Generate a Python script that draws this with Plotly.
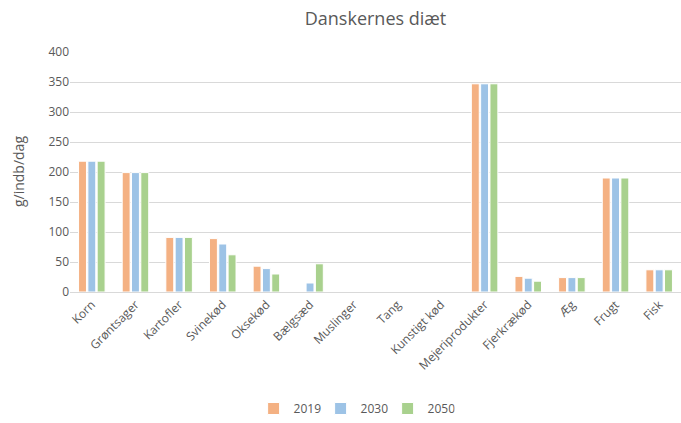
import plotly.graph_objects as go

categories = ["Korn", "Grøntsager", "Kartofler", "Svinekød", "Oksekød", "Bælgsæd", "Muslinger",
              "Tang", "Kunstigt kød", "Mejeriprodukter", "Fjerkrækød", "Æg", "Frugt", "Fisk"]
v2019 = [218, 199, 91, 89, 43, 0, 0, 0, 0, 347, 26, 24, 190, 37]
v2030 = [218, 199, 91, 80, 39, 15, 0, 0, 0, 347, 23, 24, 190, 37]
v2050 = [218, 199, 91, 62, 30, 47, 0, 0, 0, 347, 18, 24, 190, 37]
series_names = ["2019", "2030", "2050"]
colors = ["#F4B183", "#9DC3E6", "#A9D18E"]

fig = go.Figure()
for name, vals, c in zip(series_names, [v2019, v2030, v2050], colors):
    fig.add_trace(go.Bar(x=categories, y=vals, name=name,
                         marker=dict(color=c, line=dict(color="white", width=1))))

font_fam = "Open Sans, Liberation Sans, sans-serif"
fig.update_layout(
    width=681, height=423,
    margin=dict(l=70, r=0, t=52, b=128),
    paper_bgcolor="white", plot_bgcolor="white",
    barmode="group", bargap=0.36, bargroupgap=0.15,
    font=dict(family=font_fam, size=12, color="#595959"),
    title=dict(text="Danskernes diæt", x=0.5, xref="paper", xanchor="center",
               y=0.955, yanchor="middle", font=dict(size=18, color="#595959")),
    showlegend=True,
    legend=dict(orientation="h", x=0.465, xanchor="center", y=-0.486, yanchor="middle",
                font=dict(size=12, color="#595959"), itemwidth=30, traceorder="normal",
                entrywidth=22, entrywidthmode="pixels"),
    xaxis=dict(tickangle=-45, showgrid=False, showline=True, linecolor="#D9D9D9",
               ticks="", automargin=False, tickfont=dict(size=12, color="#595959")),
    yaxis=dict(range=[0, 400], dtick=50, showgrid=True, gridcolor="#D9D9D9",
               zeroline=False, showline=False, ticks="", automargin=False,
               tickfont=dict(size=12, color="#595959")),
)
fig.add_annotation(text="g/indb/dag", textangle=-90, xref="paper", yref="paper",
                   x=-0.085, y=0.5, xanchor="center", yanchor="middle", showarrow=False,
                   font=dict(size=14, color="#595959"))
fig.write_html("out.html", config={"displayModeBar": False},
               post_script="document.body.style.margin='0';document.body.style.overflow='hidden';")
